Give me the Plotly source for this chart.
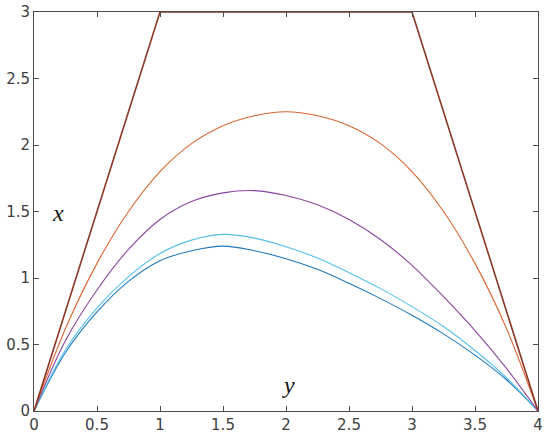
import plotly.graph_objects as go

# ---- data ----
x_grid = [0, 0.25, 0.5, 0.75, 1.0, 1.25, 1.5, 1.75, 2.0, 2.25, 2.5, 2.75, 3.0, 3.25, 3.5, 3.75, 4.0]

blue_y = [0, 0.44, 0.745, 0.975, 1.13, 1.205, 1.24, 1.205, 1.145, 1.065, 0.96, 0.845, 0.72, 0.58, 0.42, 0.235, 0]
lightblue_y = [0, 0.46, 0.775, 1.01, 1.185, 1.285, 1.328, 1.30, 1.235, 1.15, 1.04, 0.92, 0.785, 0.635, 0.455, 0.25, 0]
purple_y = [0, 0.53, 0.91, 1.215, 1.44, 1.575, 1.64, 1.657, 1.62, 1.55, 1.44, 1.29, 1.095, 0.86, 0.605, 0.32, 0]
orange_y = [0, 0.62, 1.11, 1.50, 1.80, 2.01, 2.145, 2.22, 2.25, 2.22, 2.145, 2.01, 1.80, 1.50, 1.11, 0.62, 0]

trap_x = [0, 1, 3, 4]
trap_y = [0, 3, 3, 0]

x_ticks = [0, 0.5, 1, 1.5, 2, 2.5, 3, 3.5, 4]
x_ticklabels = ["0", "0.5", "1", "1.5", "2", "2.5", "3", "3.5", "4"]
y_ticks = [0, 0.5, 1, 1.5, 2, 2.5, 3]
y_ticklabels = ["0", "0.5", "1", "1.5", "2", "2.5", "3"]

series = [
    (blue_y, "#1F78BE"),
    (lightblue_y, "#55C0EE"),
    (purple_y, "#8A45A0"),
    (orange_y, "#DE6430"),
]

fig = go.Figure()
for ys, col in series:
    fig.add_trace(go.Scatter(x=x_grid, y=ys, mode="lines",
                             line=dict(color=col, width=1.1, shape="spline", smoothing=1.0),
                             showlegend=False, hoverinfo="skip"))
fig.add_trace(go.Scatter(x=trap_x, y=trap_y, mode="lines", line=dict(color="#8B3626", width=1.6),
                         showlegend=False, hoverinfo="skip", cliponaxis=False))

axis_common = dict(
    showgrid=False, zeroline=False, showline=True, linecolor="#4d4d4d", linewidth=1,
    mirror="ticks", ticks="inside", ticklen=5, tickcolor="#4d4d4d", tickwidth=1,
    automargin=False,
    tickfont=dict(family="DejaVu Sans, sans-serif", size=15, color="#404040"),
)

fig.update_layout(
    width=550, height=442,
    margin=dict(l=34, r=12, t=12, b=31, autoexpand=False),
    paper_bgcolor="white", plot_bgcolor="white",
    xaxis=dict(range=[0, 4], tickvals=x_ticks, ticktext=x_ticklabels, **axis_common),
    yaxis=dict(range=[0, 3], tickvals=y_ticks, ticktext=y_ticklabels, **axis_common),
    annotations=[
        dict(x=0.19, y=1.49, xref="x", yref="y", text="<i>x</i>", showarrow=False,
             font=dict(family="Liberation Serif, Times New Roman, serif", size=24, color="#111111")),
        dict(x=2.016, y=0.195, xref="x", yref="y", text="<i>y</i>", showarrow=False,
             font=dict(family="Liberation Serif, Times New Roman, serif", size=24, color="#111111")),
    ],
)

fig.write_html("out.html", config={"displayModeBar": False})

# remove the default 8px page margin so the figure sits at the window origin
with open("out.html", "r", encoding="utf-8") as f:
    html = f.read()
html = html.replace("<head>", "<head><style>html,body{margin:0;padding:0;overflow:hidden;}</style>", 1)
with open("out.html", "w", encoding="utf-8") as f:
    f.write(html)
